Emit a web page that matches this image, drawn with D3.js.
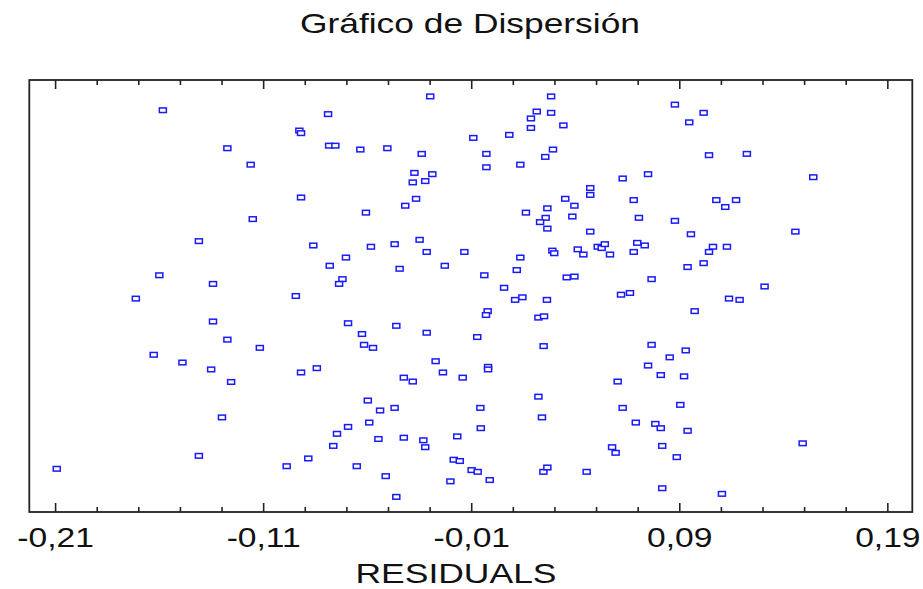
<!DOCTYPE html>
<html>
<head>
<meta charset="utf-8">
<script src="https://cdn.jsdelivr.net/npm/d3@7"></script>
<style>
  html, body { margin: 0; padding: 0; background: #fff; }
  svg { display: block; }
  text { font-family: "Liberation Sans", Arial, sans-serif; fill: #111; }
</style>
</head>
<body>
<svg id="chart" width="923" height="589"></svg>
<script>
// Residual of each observation (x) and its vertical scatter position (y, 0..1)
const residuals = [
  -0.1582, -0.0926, -0.0918, -0.1272, -0.1160, -0.0918, -0.1150, -0.1409, -0.0859, -0.1599,
  -0.0788, -0.0297,  0.0284,  0.0215,  0.0284,  0.0187,  0.0187,  0.0343, -0.0090,  0.0083,
  -0.0783, -0.0753, -0.0633, -0.0503, -0.0338, -0.0027,  0.0293,  0.0256, -0.0027,  0.0136,
  -0.0373, -0.0287, -0.0381, -0.0321,  0.0628,  0.0472,  0.0472, -0.0365, -0.0417,  0.0352,
   0.0396,  0.0266, -0.0606,  0.0163,  0.0258,  0.0231,  0.0266,  0.0386,  0.0472, -0.0582,
  -0.0468, -0.0348, -0.0314, -0.0133, -0.0702, -0.0780, -0.0444, -0.0227,  0.0136,  0.0119,
  -0.0037,  0.0290,  0.0299,  0.0412,  0.0439,  0.0508,  0.0527,  0.0542,  0.0567, -0.0719,
  -0.0735,  0.0359,  0.0396,  0.0879,  0.1017,  0.0948,  0.1043,  0.1225,  0.0750,  0.1544,
   0.0681,  0.1078,  0.1173,  0.1121,  0.0706,  0.0879,  0.0956,  0.1458,  0.0698,  0.0734,
   0.0681,  0.1062,  0.1129,  0.1043,  0.1017,  0.0940,  0.0767, -0.1341, -0.1712, -0.0943,
  -0.1341, -0.1272, -0.1116, -0.1626, -0.1488, -0.1350, -0.1254, -0.0918, -0.0842, -0.1298,
  -0.1409, -0.2092, -0.0987, -0.0883,  0.0058,  0.0111,  0.0146,  0.0264, -0.0021, -0.0029,
   0.0223,  0.0250, -0.0692, -0.0460, -0.0625, -0.0314, -0.0071, -0.0615, -0.0572,  0.0248,
  -0.0271, -0.0236, -0.0019, -0.0019, -0.0141, -0.0424, -0.0381,  0.0223, -0.0597, -0.0538,
  -0.0468, -0.0056,  0.0240, -0.0692, -0.0745, -0.0590, -0.0546, -0.0424, -0.0330, -0.0321,
  -0.0167, -0.0054, -0.0763, -0.0650, -0.0511, -0.0460, -0.0184, -0.0155, -0.0098, -0.0069,
  -0.0200, -0.0011,  0.0247,  0.0266,  0.0455,  0.0577,  0.0594,  0.0620,  0.0663,  0.1310,
   0.1139,  0.1190,  0.0974,  0.0767,  0.0931,  0.0854,  0.0750,  0.0811,  0.0923,  0.0604,
   0.0628,  0.0905,  0.0691,  0.0785,  0.0811,  0.0940,  0.0818,  0.0888,  0.1493,  0.0818,
   0.1105
];
const jitter = [
  0.930, 0.883, 0.877, 0.842, 0.804, 0.728, 0.678, 0.627, 0.617, 0.548,
  0.921, 0.962, 0.962, 0.927, 0.924, 0.911, 0.889, 0.895, 0.866, 0.873,
  0.848, 0.848, 0.839, 0.842, 0.829, 0.829, 0.839, 0.822, 0.798, 0.804,
  0.785, 0.782, 0.763, 0.766, 0.772, 0.750, 0.734, 0.725, 0.709, 0.725,
  0.709, 0.703, 0.693, 0.693, 0.681, 0.671, 0.656, 0.684, 0.649, 0.614,
  0.620, 0.630, 0.602, 0.602, 0.589, 0.570, 0.563, 0.570, 0.589, 0.560,
  0.548, 0.605, 0.599, 0.608, 0.596, 0.614, 0.611, 0.620, 0.596, 0.539,
  0.528, 0.543, 0.545, 0.943, 0.924, 0.902, 0.826, 0.829, 0.782, 0.775,
  0.722, 0.722, 0.722, 0.706, 0.681, 0.674, 0.643, 0.649, 0.623, 0.617,
  0.602, 0.614, 0.614, 0.602, 0.576, 0.567, 0.539, 0.528, 0.494, 0.500,
  0.441, 0.399, 0.380, 0.364, 0.346, 0.330, 0.301, 0.323, 0.333, 0.219,
  0.130, 0.100, 0.106, 0.124, 0.519, 0.491, 0.497, 0.491, 0.465, 0.456,
  0.450, 0.453, 0.437, 0.431, 0.412, 0.415, 0.405, 0.387, 0.380, 0.384,
  0.349, 0.323, 0.336, 0.330, 0.311, 0.311, 0.302, 0.267, 0.258, 0.235,
  0.241, 0.241, 0.219, 0.197, 0.181, 0.207, 0.169, 0.172, 0.166, 0.150,
  0.175, 0.194, 0.153, 0.106, 0.083, 0.035, 0.121, 0.118, 0.097, 0.093,
  0.071, 0.074, 0.093, 0.103, 0.093, 0.150, 0.137, 0.503, 0.507, 0.522,
  0.494, 0.491, 0.465, 0.387, 0.374, 0.358, 0.339, 0.317, 0.314, 0.302,
  0.241, 0.248, 0.207, 0.204, 0.194, 0.188, 0.153, 0.127, 0.159, 0.055,
  0.042
];
const majorTicks = [-0.21, -0.11, -0.01, 0.09, 0.19];
const minorTicks = [-0.19, -0.17, -0.15, -0.13, -0.09, -0.07, -0.05, -0.03,
                    0.01, 0.03, 0.05, 0.07, 0.11, 0.13, 0.15, 0.17];
const titleText = "Gráfico de Dispersión";
const xLabel = "RESIDUALS";

const points = residuals.map((r, i) => ({ x: r, y: jitter[i] }));

const svg = d3.select("#chart");
const box = { left: 29.3, right: 912.3, top: 80, bottom: 512 };

const x = d3.scaleLinear().domain([-0.2224, 0.2020]).range([box.left, box.right]);
const y = d3.scaleLinear().domain([0, 1]).range([box.bottom, box.top]);

const es = d3.formatLocale({ decimal: ",", thousands: ".", grouping: [3], currency: ["", " €"], minus: "-" });
const fmt = es.format(".2f");

// Title
svg.append("text")
  .attr("x", 470).attr("y", 33)
  .attr("text-anchor", "middle")
  .attr("font-size", 28)
  .attr("textLength", 340)
  .attr("lengthAdjust", "spacingAndGlyphs")
  .text(titleText);

// Bottom axis: major ticks with labels, minor ticks without, both pointing inward
const bottomMajor = svg.append("g")
  .attr("transform", `translate(0,${box.bottom})`)
  .call(d3.axisBottom(x).tickValues(majorTicks).tickSizeInner(-9).tickSizeOuter(0).tickFormat(fmt));
bottomMajor.selectAll("text")
  .attr("y", 35).attr("dy", 0)
  .attr("font-size", 28)
  .attr("transform", "scale(1.2,1)")
  .style("font-family", "'Liberation Sans', Arial, sans-serif")
  .attr("fill", "#111");
svg.append("g")
  .attr("transform", `translate(0,${box.bottom})`)
  .call(d3.axisBottom(x).tickValues(minorTicks).tickSizeInner(-5).tickSizeOuter(0).tickFormat(""));

// Top axis mirrors the tick marks
svg.append("g")
  .attr("transform", `translate(0,${box.top})`)
  .call(d3.axisTop(x).tickValues(majorTicks).tickSizeInner(-9).tickSizeOuter(0).tickFormat(""));
svg.append("g")
  .attr("transform", `translate(0,${box.top})`)
  .call(d3.axisTop(x).tickValues(minorTicks).tickSizeInner(-5).tickSizeOuter(0).tickFormat(""));

svg.selectAll(".domain").remove();
svg.selectAll(".tick line").attr("stroke", "#222").attr("stroke-width", 1.6);

// Plot frame
svg.append("rect")
  .attr("x", box.left).attr("y", box.top)
  .attr("width", box.right - box.left).attr("height", box.bottom - box.top)
  .attr("fill", "none").attr("stroke", "#222").attr("stroke-width", 1.8);

// Markers: small open squares
const mw = 7, mh = 4.6;
svg.append("g").selectAll("rect")
  .data(points)
  .join("rect")
  .attr("x", d => x(d.x) - mw / 2)
  .attr("y", d => y(d.y) - mh / 2)
  .attr("width", mw).attr("height", mh)
  .attr("fill", "#fff")
  .attr("stroke", "#1a1aff")
  .attr("stroke-width", 1.5);

// X axis title
svg.append("text")
  .attr("x", 456).attr("y", 583)
  .attr("text-anchor", "middle")
  .attr("font-size", 28)
  .attr("textLength", 201)
  .attr("lengthAdjust", "spacingAndGlyphs")
  .text(xLabel);
</script>
</body>
</html>
